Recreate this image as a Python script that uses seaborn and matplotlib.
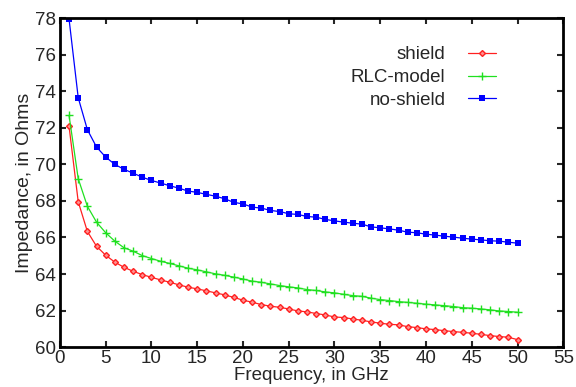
import pandas as pd
import matplotlib
matplotlib.use('Agg')
import matplotlib.pyplot as plt
import seaborn as sns

freq = list(range(1, 51))

shield = [72.08, 67.96, 66.33, 65.52, 65.03, 64.65, 64.37, 64.15, 63.97, 63.82,
          63.68, 63.55, 63.41, 63.28, 63.19, 63.08, 62.97, 62.86, 62.72, 62.57,
          62.46, 62.33, 62.24, 62.18, 62.09, 61.98, 61.93, 61.84, 61.76, 61.65,
          61.62, 61.54, 61.47, 61.38, 61.31, 61.25, 61.22, 61.12, 61.07, 61.00,
          60.96, 60.90, 60.85, 60.81, 60.76, 60.70, 60.63, 60.58, 60.54, 60.41]

rlc_model = [72.68, 69.22, 67.71, 66.84, 66.26, 65.80, 65.44, 65.25, 65.01, 64.85,
             64.70, 64.58, 64.45, 64.32, 64.23, 64.12, 64.01, 63.93, 63.83, 63.73,
             63.61, 63.55, 63.46, 63.37, 63.30, 63.24, 63.15, 63.10, 63.02, 62.97,
             62.89, 62.82, 62.78, 62.68, 62.60, 62.55, 62.49, 62.45, 62.40, 62.35,
             62.31, 62.27, 62.22, 62.16, 62.13, 62.09, 62.04, 61.98, 61.95, 61.91]

no_shield = [77.95, 73.65, 71.90, 70.95, 70.40, 70.00, 69.73, 69.52, 69.30, 69.12,
             68.98, 68.83, 68.70, 68.54, 68.47, 68.36, 68.26, 68.12, 67.92, 67.84,
             67.66, 67.61, 67.48, 67.42, 67.30, 67.26, 67.15, 67.11, 66.99, 66.91,
             66.84, 66.78, 66.73, 66.58, 66.53, 66.47, 66.40, 66.29, 66.26, 66.18,
             66.13, 66.07, 66.02, 65.96, 65.91, 65.87, 65.82, 65.80, 65.74, 65.69]

sns.set_style('ticks')
plt.rcParams['font.family'] = ['Liberation Sans', 'DejaVu Sans']

fig = plt.figure(figsize=(5.76, 3.87), dpi=100)
ax = fig.add_axes([0.104, 0.103, 0.874, 0.850])

# series: label, values, colour, marker, marker size
series = [
    ('shield', shield, '#ff2020', 'D', 3),
    ('RLC-model', rlc_model, '#20e020', '+', 6),
    ('no-shield', no_shield, '#0000ff', 's', 5),
]
for label, vals, col, mk, ms in series:
    sns.lineplot(x=freq, y=vals, ax=ax, color=col, linewidth=0.9, label=label,
                 marker=mk, markersize=ms, markeredgecolor=col,
                 markerfacecolor=col if mk != 'D' else '#ff9090',
                 markeredgewidth=1.0 if mk != 's' else 0)

ax.set_xlim(0, 55)
ax.set_ylim(60, 78)
ax.set_xticks(range(0, 56, 5))
ax.set_yticks(range(60, 79, 2))
ax.tick_params(direction='in', top=True, right=True, length=4, width=1.5,
               labelsize=13.5, pad=3)
ax.tick_params(axis='x', pad=2)
for sp in ax.spines.values():
    sp.set_linewidth(2)
    sp.set_color('black')
ax.set_xlabel('Frequency, in GHz', fontsize=13.5, labelpad=0)
ax.set_ylabel('Impedance, in Ohms', fontsize=14, labelpad=1)

ax.legend(loc='upper right', bbox_to_anchor=(0.9, 0.966), frameon=False,
          markerfirst=False, fontsize=13.5, handlelength=1.5,
          handletextpad=1.2, labelspacing=0.3)

fig.savefig('out.png', dpi=100)
